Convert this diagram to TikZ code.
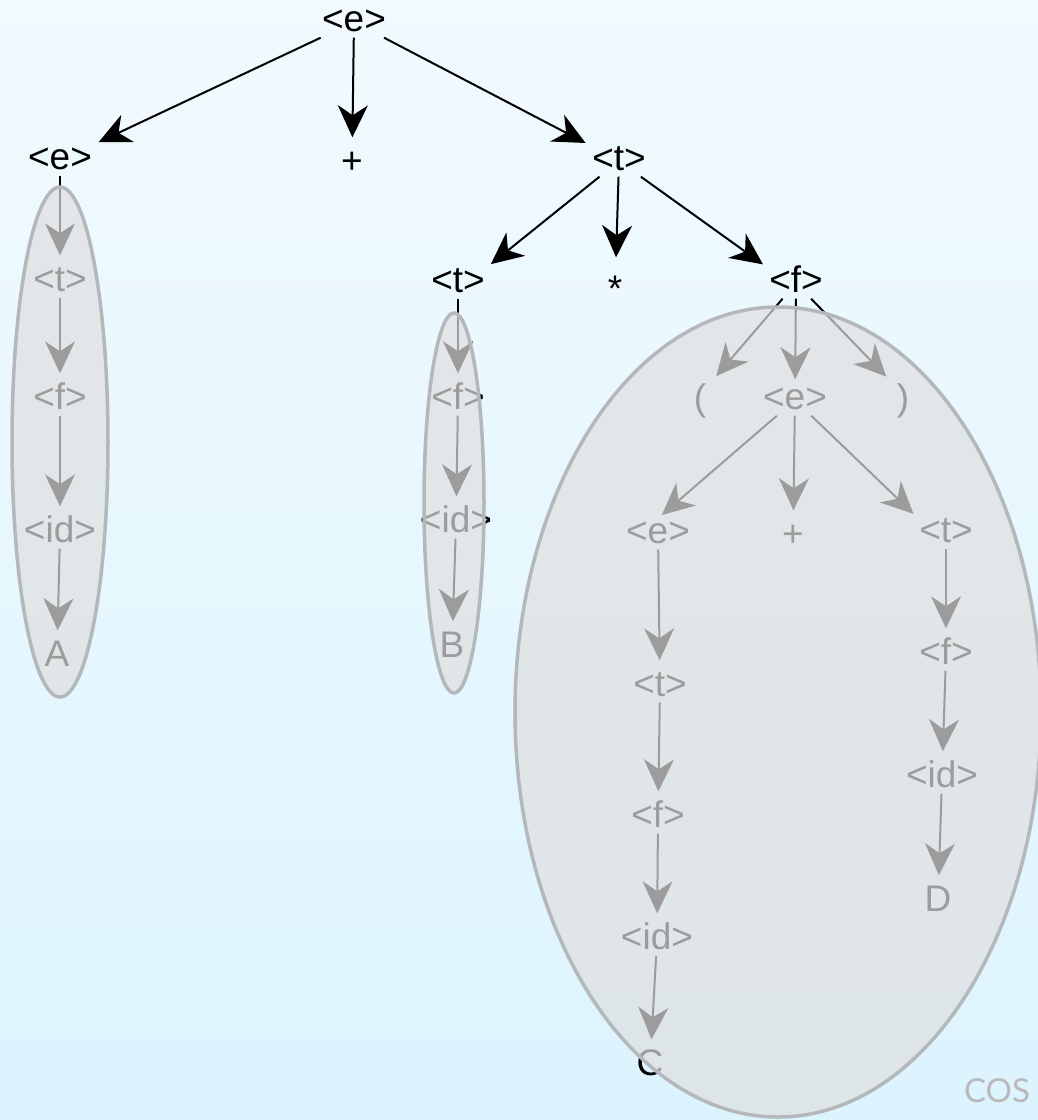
\documentclass[tikz,border=0pt]{standalone}
\usepackage{fontspec}
\setmainfont{Liberation Sans}
\newfontfamily\cosfont{Lato}
\usetikzlibrary{arrows.meta}
\definecolor{skytop}{HTML}{F1FAFE}
\definecolor{skybottom}{HTML}{DCF4FE}
\definecolor{blobrim}{HTML}{B4B8BB}
\tikzset{
  sym/.style={font=\fontsize{37}{42}\selectfont, inner sep=2pt, text height=23pt, text depth=4pt},
  derive/.style={-{Stealth[length=32pt,width=30pt,inset=10pt]}, line width=2pt, shorten >=5pt},
  derivedown/.style={derive, shorten >=11pt},
  blob/.style={fill=gray!25, fill opacity=0.7, draw=blobrim, draw opacity=1, line width=3.5pt}
}
\begin{document}
\begin{tikzpicture}[x=1pt, y=-1pt]
    \shade[top color=skytop, bottom color=skybottom] (0,0) rectangle (1038,1120);
    \useasboundingbox (0,0) rectangle (1038,1120);

    \node[sym] (root) at (354,22) {<e>};
    \node[sym] (e1) at (60,160) {<e>};
    \node[sym] (plus1) at (352,164) {+};
    \node[sym] (t1) at (619,161) {<t>};

    \node[sym] (t2) at (60,282) {<t>};
    \node[sym] (f2) at (60,400) {<f>};
    \node[sym] (id2) at (60,533) {<id>};
    \node[sym] (a) at (57,657) {A};

    \node[sym] (t3) at (458,283) {<t>};
    \node[sym] (star) at (615,292) {*};
    \node[sym] (f3) at (796,283) {<f>};

    \node[sym] (f4) at (458,400) {<f>};
    \node[sym] (id4) at (456,523) {<id>};
    \node[sym] (b) at (452,648) {B};

    \node[sym] (lp) at (700,401) {(};
    \node[sym] (e5) at (795,400) {<e>};
    \node[sym] (rp) at (903,401) {)};

    \node[sym] (e6) at (658,534) {<e>};
    \node[sym] (plus6) at (793,537) {+};
    \node[sym] (t6) at (946,533) {<t>};

    \node[sym] (t7) at (660,687) {<t>};
    \node[sym] (f7) at (658,818) {<f>};
    \node[sym] (id7) at (657,940) {<id>};
    \node[sym] (c) at (650,1066) {C};

    \node[sym] (f8) at (946,655) {<f>};
    \node[sym] (id8) at (942,778) {<id>};
    \node[sym] (d) at (938,902) {D};

    \draw[derive] (root) -- (e1.north east);
    \draw[derivedown] (root) -- (plus1);
    \draw[derive] (root) -- (t1.north west);
    \draw[derive] (t1) -- (t3.north east);
    \draw[derivedown, shorten >=19pt] (t1) -- (star);
    \draw[derive] (t1) -- (f3.north west);
    \draw[derive, shorten >=12pt] (f3) -- (lp.north east);
    \draw[derivedown, shorten >=5pt] (f3) -- (e5);
    \draw[derive, shorten >=12pt] (f3) -- (rp.north west);
    \draw[derive] (e5) -- (e6.north);
    \draw[derivedown] (e5) -- (plus6);
    \draw[derive] (e5) -- (t6.north west);
    \foreach \from/\to in {e1/t2, t2/f2, f2/id2, id2/a, t3/f4, f4/id4, id4/b,
                           e6/t7, t7/f7, f7/id7, id7/c, t6/f8, f8/id8, id8/d}
        \draw[derivedown] (\from) -- (\to);

    \draw[blob] (60,442) ellipse [x radius=48, y radius=255];
    \draw[blob] (454,503) ellipse [x radius=30, y radius=190];
    \draw[blob] (778,712) ellipse [x radius=263, y radius=405];

    \node[font=\cosfont\fontsize{33}{38}\selectfont, text=gray!55] (cos) at (997,1091) {COS};
\end{tikzpicture}
\end{document}
